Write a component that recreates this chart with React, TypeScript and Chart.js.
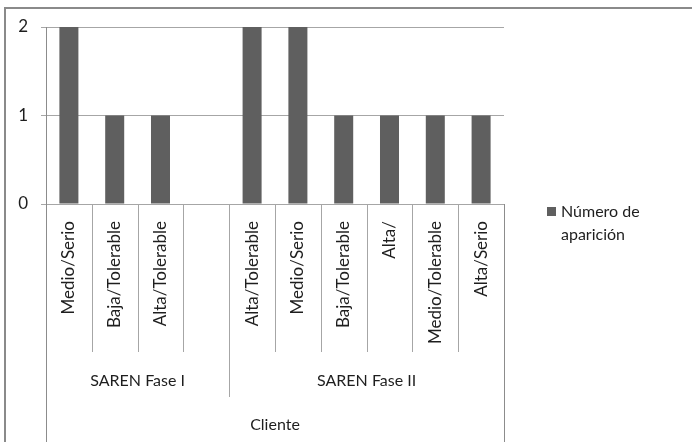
import React, { useEffect, useRef } from "react";
import { Chart, registerables } from "chart.js";

Chart.register(...registerables);

const categories = [
  "Medio/Serio",
  "Baja/Tolerable",
  "Alta/Tolerable",
  "",
  "Alta/Tolerable",
  "Medio/Serio",
  "Baja/Tolerable",
  "Alta/",
  "Medio/Tolerable",
  "Alta/Serio",
];
const groupLabels = ["SAREN Fase I", "SAREN Fase II"];
const groupSizes = [4, 6];
const outerLabel = "Cliente";
const seriesLabel = "Número de aparición";
const seriesLegendLines = ["Número de", "aparición"];
const values = [2, 1, 1, null, 2, 2, 1, 1, 1, 1];
const yMin = 0;
const yMax = 2;
const yStep = 1;

const FONT = "Lato";
const BAR_COLOR = "#5f5f5f";
const TEXT_COLOR = "#1e1e1e";
const LINE_COLOR = "#a6a6a6";
const AXIS_COLOR = "#8c8c8c";

const decorPlugin = {
  id: "decor",
  beforeDraw(chart: any) {
    const ctx = chart.ctx;
    ctx.save();
    ctx.fillStyle = "#ffffff";
    ctx.fillRect(0, 0, chart.width, chart.height);
    ctx.strokeStyle = "#8a8a8a";
    ctx.lineWidth = 2;
    ctx.beginPath();
    ctx.moveTo(5, chart.height);
    ctx.lineTo(5, 8);
    ctx.lineTo(chart.width, 8);
    ctx.stroke();
    ctx.restore();
  },
  afterDraw(chart: any) {
    const ctx = chart.ctx;
    const xs = chart.scales.x;
    const area = chart.chartArea;
    const n = categories.length;
    const slot = (area.right - area.left) / n;
    const bottom = area.bottom;
    ctx.save();
    ctx.lineWidth = 1;
    const groupEdges: number[] = [];
    let acc = 0;
    groupSizes.forEach((s) => {
      acc += s;
      groupEdges.push(acc);
    });
    ctx.strokeStyle = LINE_COLOR;
    for (let k = 1; k < n; k++) {
      const x = Math.round(area.left + k * slot) + 0.5;
      const isGroup = groupEdges.includes(k);
      ctx.beginPath();
      ctx.moveTo(x, bottom);
      ctx.lineTo(x, isGroup ? bottom + 193 : bottom + 148);
      ctx.stroke();
    }
    ctx.strokeStyle = AXIS_COLOR;
    ctx.beginPath();
    ctx.moveTo(Math.round(area.left) + 0.5, bottom);
    ctx.lineTo(Math.round(area.left) + 0.5, chart.height);
    ctx.moveTo(Math.round(area.right) + 0.5, bottom);
    ctx.lineTo(Math.round(area.right) + 0.5, chart.height);
    ctx.stroke();

    ctx.fillStyle = TEXT_COLOR;
    ctx.font = `17px ${FONT}`;
    categories.forEach((c, i) => {
      if (!c) return;
      const x = xs.getPixelForValue(i);
      ctx.save();
      ctx.translate(x, bottom + 17);
      ctx.rotate(-Math.PI / 2);
      ctx.textAlign = "right";
      ctx.textBaseline = "middle";
      ctx.fillText(c, 0, 0);
      ctx.restore();
    });

    ctx.font = `16px ${FONT}`;
    ctx.textAlign = "center";
    ctx.textBaseline = "middle";
    let start = 0;
    groupSizes.forEach((s, g) => {
      const x0 = area.left + start * slot;
      const x1 = area.left + (start + s) * slot;
      ctx.fillText(groupLabels[g], (x0 + x1) / 2, bottom + 177);
      start += s;
    });
    ctx.fillText(outerLabel, (area.left + area.right) / 2, bottom + 221);

    const ds = chart.data.datasets[0];
    ctx.fillStyle = ds.backgroundColor;
    ctx.fillRect(547, 207, 9, 9);
    ctx.fillStyle = TEXT_COLOR;
    ctx.textAlign = "left";
    ctx.textBaseline = "middle";
    ctx.fillText(seriesLegendLines[0], 561, 212);
    ctx.fillText(seriesLegendLines[1], 561, 235);
    ctx.restore();
  },
};

export default function App() {
  const ref = useRef<HTMLCanvasElement | null>(null);
  useEffect(() => {
    if (!ref.current) return;
    const chart = new Chart(ref.current, {
      type: "bar",
      data: {
        labels: categories,
        datasets: [
          {
            label: seriesLabel,
            data: values as any,
            backgroundColor: BAR_COLOR,
            borderWidth: 0,
            categoryPercentage: 1,
            barPercentage: 0.415,
          },
        ],
      },
      options: {
        responsive: false,
        animation: false,
        devicePixelRatio: 1,
        layout: { padding: { left: 0, top: 27, right: 188, bottom: 0 } },
        plugins: { legend: { display: false }, tooltip: { enabled: false } },
        scales: {
          x: {
            type: "category",
            offset: true,
            grid: { display: false },
            border: { display: false },
            ticks: { display: false },
            afterFit(scale: any) {
              scale.height = 238;
            },
          },
          y: {
            min: yMin,
            max: yMax,
            ticks: {
              stepSize: yStep,
              color: TEXT_COLOR,
              font: { family: FONT, size: 17 },
              padding: 13,
            },
            grid: { color: LINE_COLOR, tickLength: 5, lineWidth: 1 },
            border: { color: AXIS_COLOR },
            afterFit(scale: any) {
              scale.width = 46;
            },
          },
        },
      },
      plugins: [decorPlugin],
    });
    return () => chart.destroy();
  }, []);
  return (
    <div style={{ position: "absolute", left: 0, top: 0, width: 692, height: 442 }}>
      <canvas ref={ref} width={692} height={442} style={{ display: "block" }} />
    </div>
  );
}
